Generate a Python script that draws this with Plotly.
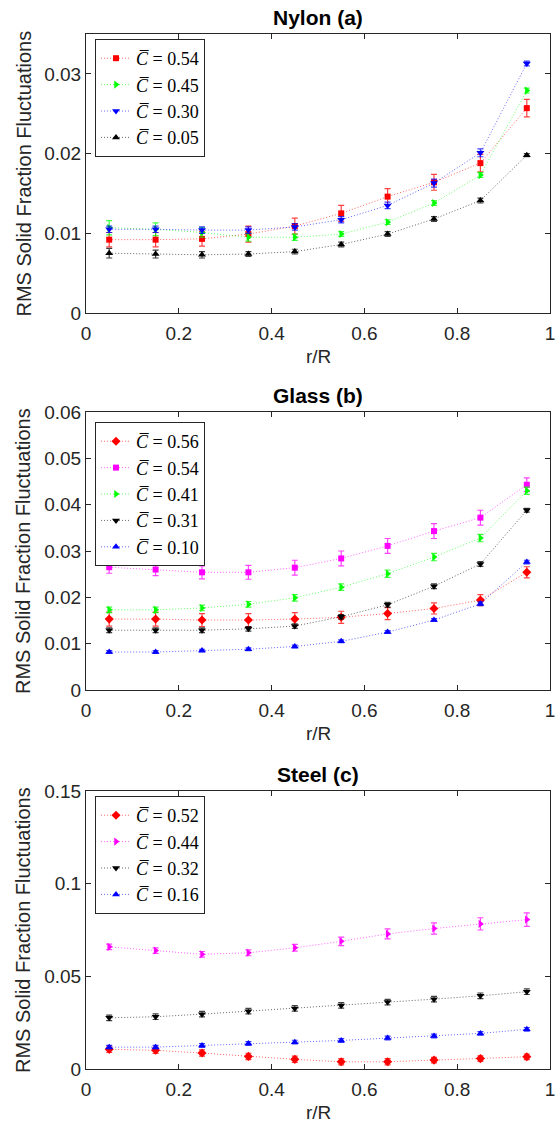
import plotly.graph_objects as go

# ---------------- data ----------------
r_R = [0.05, 0.15, 0.25, 0.35, 0.45, 0.55, 0.65, 0.75, 0.85, 0.95]

# Nylon (a)
nylon_labels = ["0.54", "0.45", "0.30", "0.05"]
nylon_054 = [0.0092, 0.0092, 0.0093, 0.0099, 0.0109, 0.0125, 0.0146, 0.0164, 0.0188, 0.0257]
nylon_054_err = [0.0009, 0.0009, 0.0009, 0.0010, 0.0010, 0.0010, 0.0010, 0.0010, 0.0011, 0.0011]
nylon_045 = [0.0107, 0.0105, 0.0101, 0.0095, 0.0095, 0.0099, 0.0114, 0.0138, 0.0173, 0.0279]
nylon_045_err = [0.0009, 0.0008, 0.0006, 0.0005, 0.0004, 0.0003, 0.0003, 0.0003, 0.0003, 0.0003]
nylon_030 = [0.0105, 0.0105, 0.0104, 0.0104, 0.0108, 0.0117, 0.0135, 0.0163, 0.0201, 0.0313]
nylon_030_err = [0.0004, 0.0004, 0.0004, 0.0004, 0.0004, 0.0004, 0.0004, 0.0005, 0.0005, 0.0003]
nylon_005 = [0.0075, 0.0074, 0.0073, 0.0074, 0.0077, 0.0086, 0.0099, 0.0118, 0.0141, 0.0198]
nylon_005_err = [0.0006, 0.0005, 0.0004, 0.0003, 0.0003, 0.0003, 0.0003, 0.0003, 0.0003, 0.0002]

# Glass (b)
glass_labels = ["0.56", "0.54", "0.41", "0.31", "0.10"]
glass_056 = [0.0153, 0.0153, 0.0151, 0.0151, 0.0153, 0.0157, 0.0165, 0.0176, 0.0194, 0.0254]
glass_056_err = [0.0015, 0.0015, 0.0014, 0.0014, 0.0014, 0.0013, 0.0013, 0.0012, 0.0012, 0.0012]
glass_054 = [0.0265, 0.0260, 0.0254, 0.0254, 0.0264, 0.0284, 0.0311, 0.0343, 0.0372, 0.0443]
glass_054_err = [0.0013, 0.0013, 0.0014, 0.0015, 0.0016, 0.0016, 0.0016, 0.0016, 0.0016, 0.0015]
glass_041 = [0.0173, 0.0173, 0.0177, 0.0185, 0.0199, 0.0222, 0.0251, 0.0287, 0.0328, 0.0430]
glass_041_err = [0.0006, 0.0006, 0.0006, 0.0006, 0.0007, 0.0007, 0.0008, 0.0008, 0.0008, 0.0008]
glass_031 = [0.0129, 0.0129, 0.0129, 0.0132, 0.0138, 0.0158, 0.0184, 0.0224, 0.0272, 0.0388]
glass_031_err = [0.0005, 0.0005, 0.0005, 0.0005, 0.0005, 0.0005, 0.0005, 0.0005, 0.0005, 0.0004]
glass_010 = [0.0082, 0.0082, 0.0085, 0.0088, 0.0094, 0.0105, 0.0125, 0.0151, 0.0186, 0.0276]
glass_010_err = [0.0003, 0.0003, 0.0003, 0.0003, 0.0003, 0.0003, 0.0003, 0.0003, 0.0004, 0.0004]

# Steel (c)
steel_labels = ["0.52", "0.44", "0.32", "0.16"]
steel_052 = [0.0106, 0.0101, 0.0086, 0.0068, 0.0052, 0.0039, 0.0039, 0.0048, 0.0056, 0.0066]
steel_052_err = [0.0017, 0.0017, 0.0017, 0.0017, 0.0017, 0.0017, 0.0017, 0.0015, 0.0015, 0.0015]
steel_044 = [0.0659, 0.0639, 0.0619, 0.0627, 0.0654, 0.0689, 0.0729, 0.0758, 0.0783, 0.0806]
steel_044_err = [0.0015, 0.0015, 0.0015, 0.0016, 0.0018, 0.0023, 0.0027, 0.0030, 0.0033, 0.0036]
steel_032 = [0.0276, 0.0282, 0.0296, 0.0312, 0.0327, 0.0343, 0.0361, 0.0377, 0.0395, 0.0417]
steel_032_err = [0.0015, 0.0015, 0.0015, 0.0015, 0.0015, 0.0015, 0.0015, 0.0015, 0.0015, 0.0015]
steel_016 = [0.0118, 0.0118, 0.0127, 0.0138, 0.0145, 0.0154, 0.0167, 0.0178, 0.0192, 0.0214]
steel_016_err = [0.0010, 0.0010, 0.0010, 0.0010, 0.0010, 0.0010, 0.0010, 0.0010, 0.0010, 0.0010]

titles = ["Nylon (a)", "Glass (b)", "Steel (c)"]
x_title = "r/R"
y_title = "RMS Solid Fraction Fluctuations"
x_ticks = [0, 0.2, 0.4, 0.6, 0.8, 1]
y_ticks_a = [0, 0.01, 0.02, 0.03]
y_ticks_b = [0, 0.01, 0.02, 0.03, 0.04, 0.05, 0.06]
y_ticks_c = [0, 0.05, 0.1, 0.15]

# ---------------- styling ----------------
RED, GREEN, BLUE, BLACK, MAG = "#ff0000", "#00ff00", "#0000ff", "#000000", "#ff00ff"


def rgba(hexc, a):
    h = hexc.lstrip("#")
    return "rgba(%d,%d,%d,%s)" % (int(h[0:2], 16), int(h[2:4], 16), int(h[4:6], 16), a)


W, H = 556, 1130
ax_left, ax_right = 86, 550
ML, MR = ax_left, W - ax_right
PW = ax_right - ax_left
panels_px = [(34, 313), (412, 690), (791, 1069)]
legend_top_px = [39, 422, 796]
legend_left_px = 95


def px_to_xpaper(px):
    return (px - ML) / PW


def px_to_ypaper(py):
    return 1 - py / H


fig = go.Figure()

panel_series = [
    [(nylon_054, nylon_054_err, nylon_labels[0], RED, "square", 6),
     (nylon_045, nylon_045_err, nylon_labels[1], GREEN, "triangle-right", 7),
     (nylon_030, nylon_030_err, nylon_labels[2], BLUE, "triangle-down", 7),
     (nylon_005, nylon_005_err, nylon_labels[3], BLACK, "triangle-up", 7)],
    [(glass_056, glass_056_err, glass_labels[0], RED, "diamond", 7),
     (glass_054, glass_054_err, glass_labels[1], MAG, "square", 6),
     (glass_041, glass_041_err, glass_labels[2], GREEN, "triangle-right", 7),
     (glass_031, glass_031_err, glass_labels[3], BLACK, "triangle-down", 7),
     (glass_010, glass_010_err, glass_labels[4], BLUE, "triangle-up", 7)],
    [(steel_052, steel_052_err, steel_labels[0], RED, "diamond", 7),
     (steel_044, steel_044_err, steel_labels[1], MAG, "triangle-right", 7),
     (steel_032, steel_032_err, steel_labels[2], BLACK, "triangle-down", 7),
     (steel_016, steel_016_err, steel_labels[3], BLUE, "triangle-up", 7)],
]

legend_names = ["legend", "legend2", "legend3"]
for i, series in enumerate(panel_series):
    suffix = "" if i == 0 else str(i + 1)
    for (vals, errs, lab, col, sym, msz) in series:
        fig.add_trace(go.Scatter(
            x=r_R, y=vals,
            mode="lines+markers",
            name="<i>C\u0305</i> = " + lab,
            line=dict(color=rgba(col, 0.6), width=1, dash="1px,2px"),
            marker=dict(color=col, symbol=sym, size=msz, line=dict(width=0)),
            error_y=dict(type="data", array=errs, visible=True,
                         color=rgba(col, 0.75), thickness=1.2, width=3),
            xaxis="x" + suffix, yaxis="y" + suffix,
            legend=legend_names[i],
        ))

axis_color = "#262626"
sans = "Liberation Sans, Arial, sans-serif"
tick_font = dict(family=sans, size=19, color=axis_color)
y_ticks_all = [y_ticks_a, y_ticks_b, y_ticks_c]
y_ranges = [[0, 0.035], [0, 0.06], [0, 0.15]]

layout = dict(
    width=W, height=H,
    margin=dict(l=ML, r=MR, t=0, b=0, autoexpand=False),
    paper_bgcolor="white", plot_bgcolor="white",
    showlegend=True,
    annotations=[],
)

for i in range(3):
    suffix = "" if i == 0 else str(i + 1)
    top, bot = panels_px[i]
    ydom = [1 - bot / H, 1 - top / H]
    layout["xaxis" + suffix] = dict(
        domain=[0, 1], range=[0, 1], anchor="y" + suffix, automargin=False,
        tickvals=x_ticks, ticktext=[("%g" % v) for v in x_ticks],
        ticks="inside", ticklen=5, tickcolor=axis_color, tickwidth=1,
        showline=True, linecolor=axis_color, linewidth=1, mirror="ticks",
        showgrid=False, zeroline=False, tickfont=tick_font,
        ticklabeloverflow="allow", ticklabelstandoff=3,
    )
    layout["yaxis" + suffix] = dict(
        domain=ydom, range=y_ranges[i], anchor="x" + suffix, automargin=False,
        tickvals=y_ticks_all[i], ticktext=[("%g" % v) for v in y_ticks_all[i]],
        ticks="inside", ticklen=5, tickcolor=axis_color, tickwidth=1,
        showline=True, linecolor=axis_color, linewidth=1, mirror="ticks",
        showgrid=False, zeroline=False, tickfont=tick_font,
        ticklabeloverflow="allow",
    )
    layout[legend_names[i]] = dict(
        x=px_to_xpaper(legend_left_px), y=px_to_ypaper(legend_top_px[i]),
        xanchor="left", yanchor="top",
        bgcolor="white", bordercolor="#262626", borderwidth=1,
        font=dict(family="Liberation Serif, DejaVu Serif, serif", size=18, color="#000000"),
        tracegroupgap=0,
    )
    # panel title
    layout["annotations"].append(dict(
        text="<b>" + titles[i] + "</b>", xref="paper", yref="paper",
        x=0.5, y=px_to_ypaper(top - 3),
        xanchor="center", yanchor="bottom", showarrow=False,
        font=dict(family=sans, size=21, color="#000000"),
    ))
    # x axis title
    layout["annotations"].append(dict(
        text=x_title, xref="paper", yref="paper",
        x=0.5, y=px_to_ypaper(bot + 43),
        xanchor="center", yanchor="middle", showarrow=False,
        font=dict(family=sans, size=19, color=axis_color),
    ))
    # y axis title
    layout["annotations"].append(dict(
        text=y_title, xref="paper", yref="paper", textangle=-90,
        x=px_to_xpaper(23), y=px_to_ypaper((top + bot) / 2),
        xanchor="center", yanchor="middle", showarrow=False,
        font=dict(family=sans, size=20, color=axis_color),
    ))

fig.update_layout(**layout)
fig.write_html("out.html", config={"displayModeBar": False},
               post_script="document.body.style.margin='0';")
